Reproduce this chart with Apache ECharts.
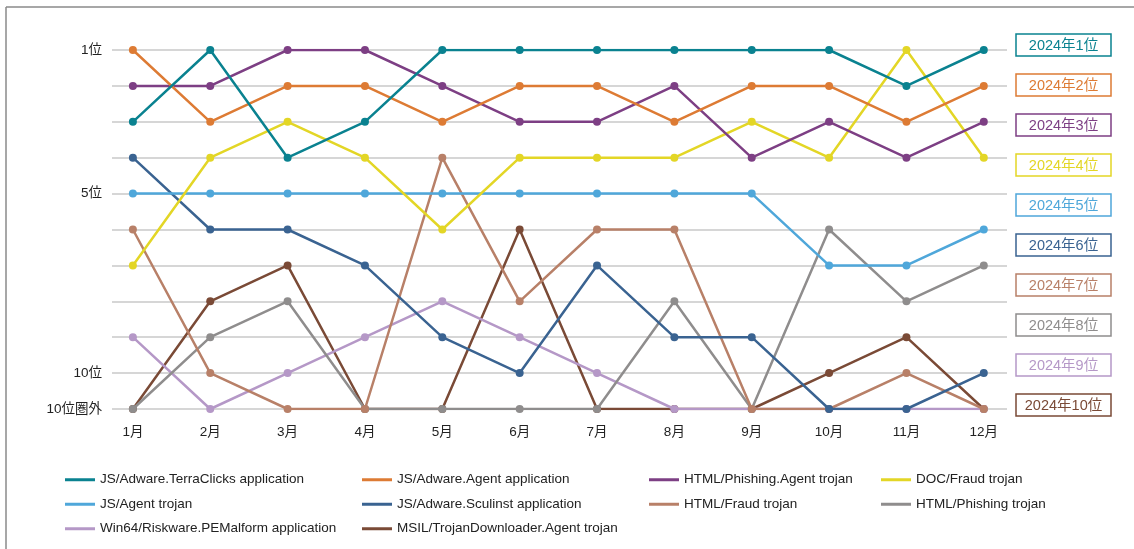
<!DOCTYPE html>
<html>
<head>
<meta charset="utf-8">
<script src="https://cdn.jsdelivr.net/npm/echarts@6/dist/echarts.min.js"></script>
<style>
  html, body { margin: 0; padding: 0; background: #fff; }
  #chart { width: 1134px; height: 549px; }
</style>
</head>
<body>
<div id="chart"></div>
<script>
// Monthly detection ranking, 2024 (11 = outside the top 10)
const months = ['1月','2月','3月','4月','5月','6月','7月','8月','9月','10月','11月','12月'];
const rankTicks = { 1: '1位', 5: '5位', 10: '10位', 11: '10位圏外' };
const annualLabels = ['2024年1位','2024年2位','2024年3位','2024年4位','2024年5位','2024年6位','2024年7位','2024年8位','2024年9位','2024年10位'];

const names = [
  'JS/Adware.TerraClicks application',
  'JS/Adware.Agent application',
  'HTML/Phishing.Agent trojan',
  'DOC/Fraud trojan',
  'JS/Agent trojan',
  'JS/Adware.Sculinst application',
  'HTML/Fraud trojan',
  'HTML/Phishing trojan',
  'Win64/Riskware.PEMalform application',
  'MSIL/TrojanDownloader.Agent trojan'
];

const terraClicks   = [3, 1, 4, 3, 1, 1, 1, 1, 1, 1, 2, 1];
const adwareAgent   = [1, 3, 2, 2, 3, 2, 2, 3, 2, 2, 3, 2];
const phishingAgent = [2, 2, 1, 1, 2, 3, 3, 2, 4, 3, 4, 3];
const docFraud      = [7, 4, 3, 4, 6, 4, 4, 4, 3, 4, 1, 4];
const jsAgent       = [5, 5, 5, 5, 5, 5, 5, 5, 5, 7, 7, 6];
const sculinst      = [4, 6, 6, 7, 9, 10, 7, 9, 9, 11, 11, 10];
const htmlFraud     = [6, 10, 11, 11, 4, 8, 6, 6, 11, 11, 10, 11];
const htmlPhishing  = [11, 9, 8, 11, 11, 11, 11, 8, 11, 6, 8, 7];
const peMalform     = [9, 11, 10, 9, 8, 9, 10, 11, 11, 11, 11, 11];
const msilDownloader= [11, 8, 7, 11, 11, 6, 11, 11, 11, 10, 9, 11];

const values = [terraClicks, adwareAgent, phishingAgent, docFraud, jsAgent,
                sculinst, htmlFraud, htmlPhishing, peMalform, msilDownloader];

const colors = ['#0a8290', '#dd7b34', '#7d3f84', '#e3d626', '#4fa7da',
                '#3a6391', '#b88068', '#8f8d8d', '#b598c7', '#7a4a36'];

const FONT = '"Liberation Sans", Arial, "Noto Sans CJK JP", sans-serif';

const chart = echarts.init(document.getElementById('chart'), null, { renderer: 'canvas' });

const series = names.map((n, i) => ({
  name: n,
  type: 'line',
  data: values[i].map((v, m) => [m, v]),
  lineStyle: { width: 2.5, color: colors[i] },
  itemStyle: { color: colors[i] },
  symbol: 'circle',
  symbolSize: 8,
  z: 20 - i,
  animation: false
})).reverse();

// Annual ranking boxes at the right
const boxes = [];
annualLabels.forEach((t, i) => {
  const cy = 45 + i * 40;
  boxes.push({
    type: 'rect',
    shape: { x: 1016, y: cy - 11, width: 95, height: 22 },
    style: { fill: '#fff', stroke: colors[i], lineWidth: 1.5 },
    z: 100
  });
  boxes.push({
    type: 'text',
    x: 1063.5, y: cy + 0.5,
    style: { text: t, fill: colors[i], font: '14.5px ' + FONT, align: 'center', verticalAlign: 'middle' },
    z: 101
  });
});

// Frame lines on the left and top
boxes.push({ type: 'line', shape: { x1: 6, y1: 7, x2: 6, y2: 549 }, style: { stroke: '#8a8a8a', lineWidth: 1.5 } });
boxes.push({ type: 'line', shape: { x1: 6, y1: 7, x2: 1134, y2: 7 }, style: { stroke: '#8a8a8a', lineWidth: 1.5 } });

const legendCols = [
  { left: 65, items: [names[0], names[4], names[8]] },
  { left: 362, items: [names[1], names[5], names[9]] },
  { left: 649, items: [names[2], names[6]] },
  { left: 881, items: [names[3], names[7]] }
];

const legends = legendCols.map(c => ({
  orient: 'vertical',
  left: c.left,
  top: 473,
  padding: 0,
  data: c.items,
  icon: 'rect',
  itemWidth: 30,
  itemHeight: 3,
  itemGap: 11,
  selectedMode: false,
  textStyle: { fontSize: 13.5, color: '#222', fontFamily: FONT }
}));

chart.setOption({
  backgroundColor: '#fff',
  animation: false,
  color: colors,
  grid: { left: 112, right: 127, top: 50, bottom: 140, containLabel: false },
  xAxis: {
    type: 'value',
    min: -0.27,
    max: 11.3,
    axisLine: { show: false },
    axisTick: { show: false },
    splitLine: { show: false },
    axisLabel: {
      customValues: months.map((_, i) => i),
      formatter: v => months[Math.round(v)] || '',
      fontSize: 13.5,
      color: '#222',
      fontFamily: FONT,
      margin: 17
    }
  },
  yAxis: {
    type: 'value',
    inverse: true,
    min: 1,
    max: 11,
    interval: 1,
    axisLine: { show: false },
    axisTick: { show: false },
    splitLine: { show: true, lineStyle: { color: '#c8c8c8', width: 1.5 } },
    axisLabel: {
      formatter: v => rankTicks[v] || '',
      fontSize: 13.5,
      color: '#222',
      fontFamily: FONT,
      margin: 10
    }
  },
  legend: legends,
  graphic: boxes,
  series: series
});
</script>
</body>
</html>
